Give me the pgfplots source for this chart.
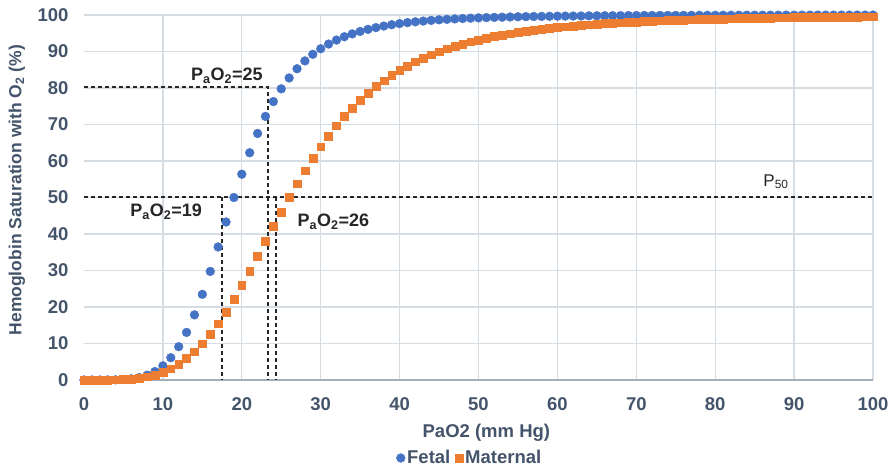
\documentclass[border=0pt]{standalone}
\usepackage{fontspec}
\setmainfont{Liberation Sans}
\usepackage{pgfplots}
\pgfplotsset{compat=1.18}
\usepackage{pgfplotstable}
\definecolor{fetal}{HTML}{4472C4}
\definecolor{matern}{HTML}{ED7D31}
\definecolor{ticktxt}{HTML}{44546A}
\definecolor{gridc}{HTML}{D6DCE4}
\definecolor{axisc}{HTML}{A5AFBC}

% PaO2 (mm Hg) vs saturation (%)
\pgfplotstableread{
x y
0 0
1 0
2 0
3 0.01
4 0.04
5 0.13
6 0.31
7 0.67
8 1.31
9 2.33
10 3.88
11 6.11
12 9.13
13 13.04
14 17.84
15 23.47
16 29.75
17 36.45
18 43.29
19 50.00
20 56.38
21 62.26
22 67.55
23 72.22
24 76.28
25 79.77
26 82.75
27 85.28
28 87.42
29 89.23
30 90.75
31 92.04
32 93.13
33 94.05
34 94.83
35 95.50
36 96.07
37 96.55
38 96.97
39 97.33
40 97.64
41 97.91
42 98.14
43 98.34
44 98.52
45 98.68
46 98.81
47 98.93
48 99.04
49 99.13
50 99.21
51 99.28
52 99.34
53 99.40
54 99.46
55 99.51
56 99.55
57 99.59
58 99.62
59 99.65
60 99.68
61 99.70
62 99.72
63 99.74
64 99.76
65 99.78
66 99.80
67 99.81
68 99.82
69 99.84
70 99.85
71 99.86
72 99.87
73 99.88
74 99.88
75 99.89
76 99.90
77 99.90
78 99.91
79 99.91
80 99.92
81 99.93
82 99.93
83 99.93
84 99.94
85 99.94
86 99.95
87 99.95
88 99.95
89 99.96
90 99.96
91 99.96
92 99.96
93 99.97
94 99.97
95 99.97
96 99.97
97 99.97
98 99.98
99 99.98
100 99.98
}\fetaltab

\pgfplotstableread{
x y
0 0
1 0
2 0
3 0.02
4 0.06
5 0.14
6 0.28
7 0.52
8 0.89
9 1.42
10 2.14
11 3.10
12 4.34
13 5.88
14 7.76
15 9.97
16 12.54
17 15.45
18 18.68
19 22.19
20 25.93
21 29.85
22 33.89
23 37.98
24 42.06
25 46.08
26 50.00
27 53.77
28 57.36
29 60.75
30 63.93
31 66.90
32 69.65
33 72.19
34 74.52
35 76.66
36 78.61
37 80.40
38 82.02
39 83.51
40 84.85
41 86.08
42 87.20
43 88.21
44 89.13
45 89.97
46 90.74
47 91.44
48 92.07
49 92.66
50 93.19
51 93.67
52 94.12
53 94.53
54 94.90
55 95.24
56 95.56
57 95.85
58 96.12
59 96.37
60 96.59
61 96.80
62 97.00
63 97.18
64 97.35
65 97.51
66 97.65
67 97.79
68 97.91
69 98.02
70 98.13
71 98.23
72 98.33
73 98.42
74 98.50
75 98.58
76 98.65
77 98.72
78 98.79
79 98.85
80 98.90
81 98.95
82 99.00
83 99.05
84 99.09
85 99.13
86 99.17
87 99.21
88 99.24
89 99.28
90 99.31
91 99.34
92 99.37
93 99.39
94 99.42
95 99.44
96 99.46
97 99.48
98 99.50
99 99.52
100 99.54
}\materntab

\begin{document}
\begin{tikzpicture}
\path[use as bounding box] (-84pt,-89pt) rectangle (811pt,380pt);
\begin{axis}[
  scale only axis,
  width=789pt, height=365pt,
  xmin=0, xmax=100, ymin=0, ymax=100,
  xtick={0,10,...,100}, ytick={0,10,...,100},
  minor xtick={10,20,...,100},
  xmajorgrids=false, xminorgrids=true, ymajorgrids=true,
  minor grid style={gridc, line width=1.3pt},
  major grid style={gridc, line width=1.3pt},
  axis x line*=bottom, axis y line*=left,
  x axis line style={axisc, line width=1.8pt, -},
  y axis line style={draw=none},
  tick style={draw=none},
  /pgf/number format/assume math mode=true,
  tick label style={font=\fontsize{18.5}{21}\selectfont\bfseries, text=ticktxt},
  yticklabel style={xshift=-12pt},
  xticklabel style={yshift=-14pt},
  xlabel={PaO2 (mm Hg)},
  xlabel style={at={(axis description cs:0.51,0)}, anchor=center, yshift=-53pt,
    font=\fontsize{18.5}{21}\selectfont\bfseries, text=ticktxt},
  ylabel={Hemoglobin Saturation with O\textsubscript{2} (\%)},
  ylabel style={at={(axis description cs:0,0.52)}, anchor=center, yshift=67pt,
    font=\fontsize{17.5}{20}\selectfont\bfseries, text=ticktxt},
  legend columns=2,
  legend style={at={(axis description cs:0.489,0)}, anchor=center, yshift=-78pt,
    draw=none, fill=none, font=\fontsize{18.5}{21}\selectfont\bfseries, text=ticktxt,
    inner sep=0pt, /tikz/every even column/.append style={column sep=3pt}},
  legend cell align=left,
  clip=false,
]
\addplot[only marks, mark=*, mark size=4.4pt, color=fetal, mark options={draw=none, fill=fetal}] table[x=x,y=y] {\fetaltab};
\addlegendentry{Fetal}
\addplot[only marks, mark=square*, mark size=3.9pt, color=matern, mark options={draw=none, fill=matern}] table[x=x,y=y] {\materntab};
\addlegendentry{Maternal}
% guide lines
\addplot[forget plot, black!85, line width=1.9pt, dash pattern=on 4pt off 3pt] coordinates {(0,80.2)(23.3,80.2)(23.3,0)};
\addplot[forget plot, black!85, line width=1.9pt, dash pattern=on 4pt off 3pt] coordinates {(0,50.2)(100,50.2)};
\addplot[forget plot, black!85, line width=1.9pt, dash pattern=on 4pt off 3pt] coordinates {(17.45,50.2)(17.45,0)};
\addplot[forget plot, black!85, line width=1.9pt, dash pattern=on 4pt off 3pt] coordinates {(24.3,50.2)(24.3,0)};
\node[font=\fontsize{18}{20}\selectfont\bfseries, text=black!85] at (axis cs:18.1,83.3) {P\textsubscript{a}O\textsubscript{2}=25};
\node[font=\fontsize{18}{20}\selectfont\bfseries, text=black!85] at (axis cs:10.4,46.1) {P\textsubscript{a}O\textsubscript{2}=19};
\node[font=\fontsize{18}{20}\selectfont\bfseries, text=black!85] at (axis cs:31.6,43.4) {P\textsubscript{a}O\textsubscript{2}=26};
\node[font=\fontsize{17}{19}\selectfont, text=black!85] at (axis cs:87.7,54.3) {P\textsubscript{50}};
\end{axis}
\end{tikzpicture}
\end{document}
